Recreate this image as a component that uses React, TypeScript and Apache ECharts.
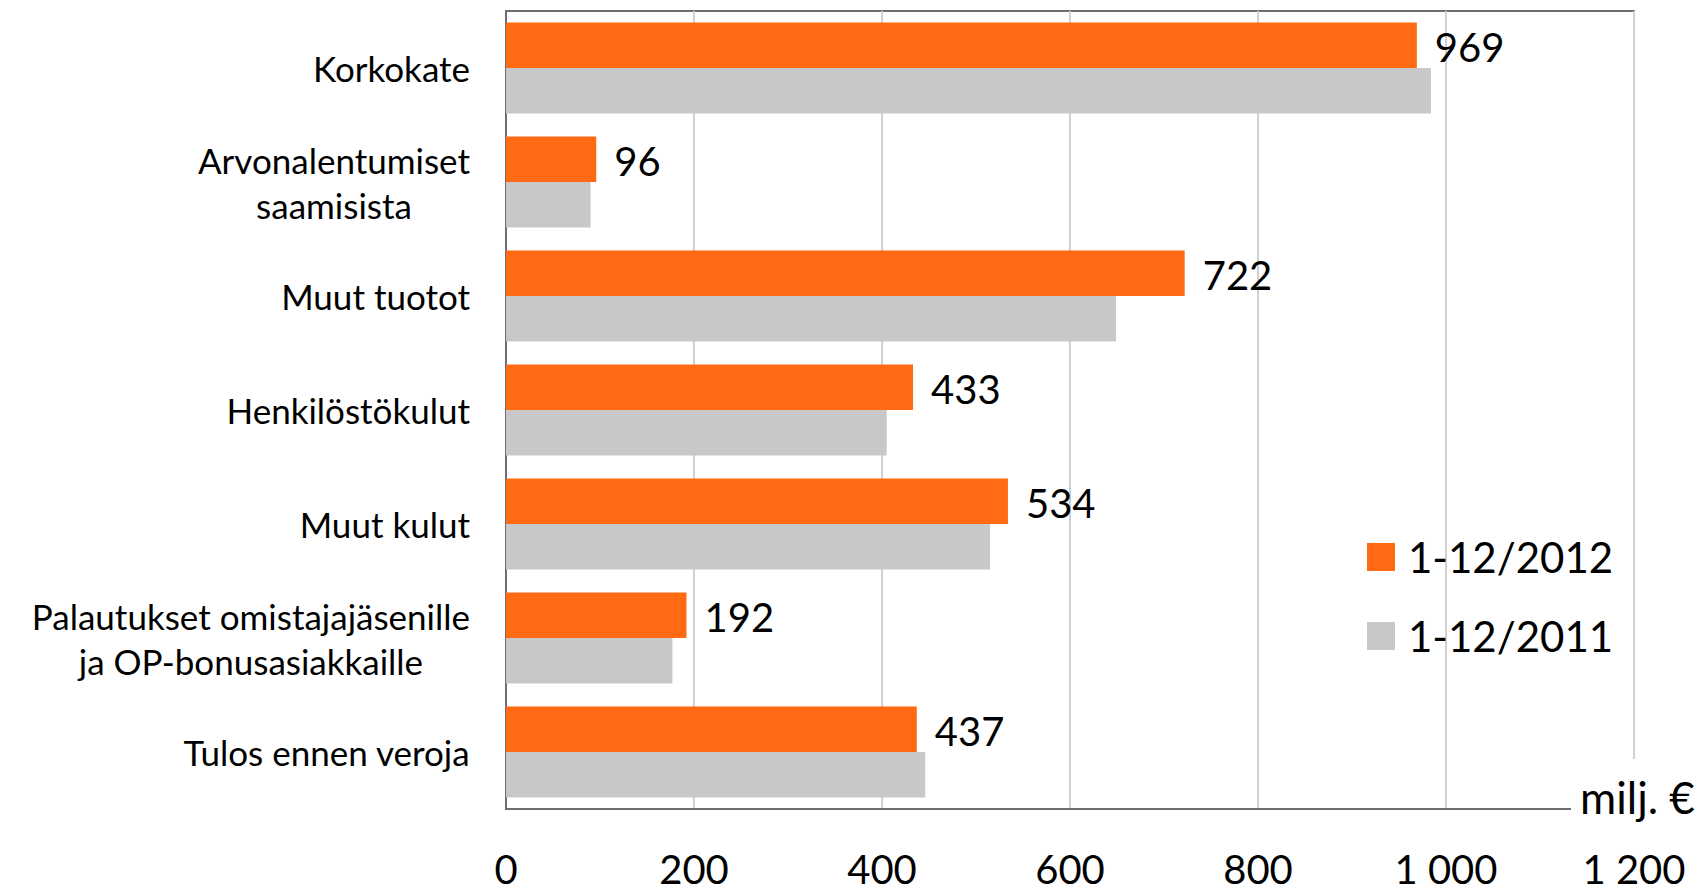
import React, { useEffect, useRef } from "react";
import * as echarts from "echarts";

const categories = [
  "Korkokate",
  "Arvonalentumiset\nsaamisista",
  "Muut tuotot",
  "Henkilöstökulut",
  "Muut kulut",
  "Palautukset omistajajäsenille\nja OP-bonusasiakkaille",
  "Tulos ennen veroja",
];
const series2012Name = "1-12/2012";
const series2011Name = "1-12/2011";
const values2012 = [969, 96, 722, 433, 534, 192, 437];
const values2011 = [984, 90, 649, 405, 515, 177, 446];
const axisMin = 0;
const axisMax = 1200;
const axisStep = 200;
const unitLabel = "milj. €";

const FONT = "Lato, 'Open Sans', sans-serif";
const ORANGE = "#FF6A13";
const GRAY = "#C8C8C8";

function fmtThousands(v: number): string {
  const s = String(Math.round(v));
  return s.replace(/\B(?=(\d{3})+(?!\d))/g, " ");
}

export default function App() {
  const ref = useRef<HTMLDivElement>(null);
  useEffect(() => {
    if (!ref.current) return;
    const chart = echarts.init(ref.current, undefined, { renderer: "svg" });
    chart.setOption({
      animation: false,
      backgroundColor: "#ffffff",
      textStyle: { fontFamily: FONT },
      grid: {
        left: 506,
        top: 11,
        right: 74,
        bottom: 86,
        show: true,
        borderColor: "#6e6e6e",
        borderWidth: 2,
        backgroundColor: "transparent",
        containLabel: false,
      },
      legend: {
        orient: "vertical",
        left: 1362,
        top: 527,
        itemWidth: 28,
        itemHeight: 28,
        itemGap: 29,
        icon: "rect",
        data: [series2012Name, series2011Name],
        textStyle: {
          fontFamily: FONT,
          fontSize: 42,
          lineHeight: 50,
          color: "#000",
          padding: [0, 0, 0, 8],
        },
      },
      xAxis: {
        type: "value",
        min: axisMin,
        max: axisMax,
        interval: axisStep,
        axisLine: { show: true, lineStyle: { color: "#6e6e6e", width: 2 } },
        axisTick: { show: false },
        splitLine: { show: true, lineStyle: { color: "#d0d0d0", width: 2 } },
        axisLabel: {
          fontFamily: FONT,
          fontSize: 40,
          lineHeight: 36,
          color: "#000",
          margin: 42,
          formatter: (v: number) => fmtThousands(v),
        },
      },
      yAxis: {
        type: "category",
        inverse: true,
        data: categories,
        axisLine: { show: true, lineStyle: { color: "#6e6e6e", width: 2 } },
        axisTick: { show: false },
        axisLabel: {
          margin: 36,
          fontFamily: FONT,
          fontSize: 35,
          lineHeight: 45,
          color: "#000",
          formatter: (v: string) =>
            v
              .split("\n")
              .map((l) => `{c|${l}}`)
              .join("\n"),
          rich: {
            c: {
              align: "center",
              fontFamily: FONT,
              fontSize: 35,
              lineHeight: 45,
              color: "#000",
            },
          },
        },
      },
      series: [
        {
          name: series2012Name,
          type: "bar",
          data: values2012,
          itemStyle: { color: ORANGE },
          barGap: "0%",
          barCategoryGap: "20%",
          label: {
            show: true,
            position: "right",
            distance: 18,
            offset: [0, 2],
            fontFamily: FONT,
            fontSize: 40,
            color: "#000",
          },
        },
        {
          name: series2011Name,
          type: "bar",
          data: values2011,
          itemStyle: { color: GRAY },
          barGap: "0%",
          barCategoryGap: "20%",
        },
      ],
      graphic: [
        {
          type: "rect",
          z: 100,
          shape: { x: 1571, y: 759, width: 70, height: 60 },
          style: { fill: "#ffffff" },
        },
        {
          type: "text",
          z: 101,
          x: 1580,
          y: 797,
          style: {
            text: unitLabel,
            fontFamily: FONT,
            fontSize: 44,
            fill: "#000",
            verticalAlign: "middle",
            align: "left",
          },
        },
      ],
    });
    return () => chart.dispose();
  }, []);
  return (
    <div
      ref={ref}
      style={{ position: "fixed", left: 0, top: 0, width: 1708, height: 895 }}
    />
  );
}
